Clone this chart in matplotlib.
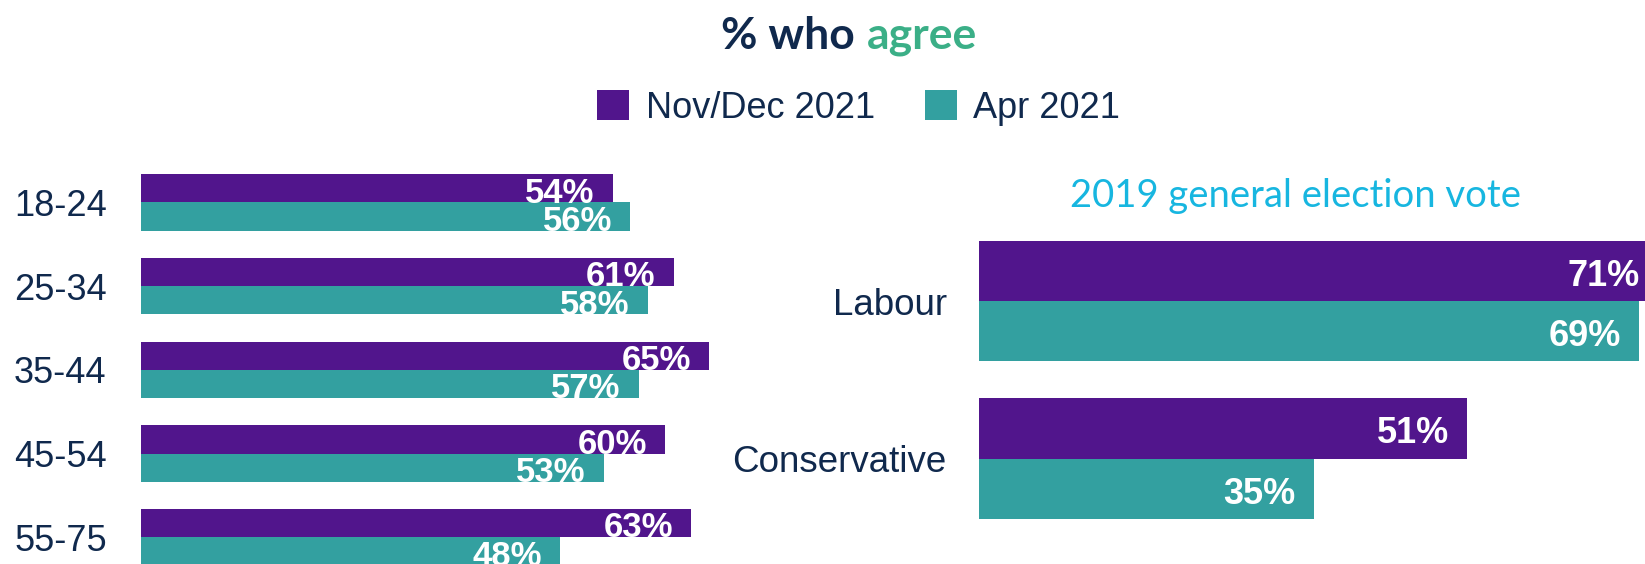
import matplotlib
matplotlib.use("Agg")
import matplotlib.pyplot as plt
import matplotlib.transforms as mtransforms

# data
age_groups = ["18-24", "25-34", "35-44", "45-54", "55-75"]
age_nov = [54, 61, 65, 60, 63]
age_apr = [56, 58, 57, 53, 48]

parties = ["Labour", "Conservative"]
party_nov = [71, 51]
party_apr = [69, 35]

series_names = ["Nov/Dec 2021", "Apr 2021"]

PURPLE = "#51158C"
TEAL = "#33A0A0"
NAVY = "#10294D"
GREEN = "#3BAF87"
CYAN = "#17B6E0"

W, H = 1645, 564
fig = plt.figure(figsize=(W / 100, H / 100), dpi=100)


def px_axes(x0, y_top, width, height):
    # axes rectangle given in pixels from the top-left corner
    return fig.add_axes([x0 / W, (H - y_top - height) / H, width / W, height / H])


def draw_bars(ax, cats, nov, apr, h, fs):
    pos = list(range(len(cats)))
    b1 = ax.barh([p - h / 2 for p in pos], nov, height=h, color=PURPLE,
                 label=series_names[0])
    b2 = ax.barh([p + h / 2 for p in pos], apr, height=h, color=TEAL,
                 label=series_names[1])
    for bars, vals in ((b1, nov), (b2, apr)):
        for rect, v in zip(bars, vals):
            ax.annotate(f"{v}%", (v, rect.get_y() + rect.get_height() / 2),
                        xytext=(-13, -1), textcoords="offset points",
                        ha="right", va="center_baseline", color="white",
                        fontsize=fs, fontweight="bold",
                        family="Liberation Sans", annotation_clip=False)
    ax.set_yticks([])
    ax.set_xticks([])
    for s in ax.spines.values():
        s.set_visible(False)
    return b1, b2


# left panel: age groups
ax1 = px_axes(140.6, 160.6, 8.74 * 80, 83.7 * 5)
ax1.set_xlim(0, 80)
ax1.set_ylim(4.5, -0.5)
b1, b2 = draw_bars(ax1, age_groups, age_nov, age_apr, 0.338, 25)
trans = mtransforms.blended_transform_factory(fig.transFigure, ax1.transData)
for i, c in enumerate(age_groups):
    ax1.text(14 / W, i, c, transform=trans, ha="left", va="center_baseline",
             fontsize=26, color=NAVY, family="Liberation Sans")

# right panel: 2019 vote
ax2 = px_axes(978.8, 206.7, 9.57 * 72, 157.4 * 2.2)
ax2.set_xlim(0, 72)
ax2.set_ylim(1.6, -0.6)
draw_bars(ax2, parties, party_nov, party_apr, 0.383, 26)
for i, c in enumerate(parties):
    ax2.annotate(c, (0, i), xytext=(-23, 0), textcoords="offset points",
                 ha="right", va="center_baseline", fontsize=26.5, color=NAVY,
                 family="Liberation Sans", annotation_clip=False)

fig.text(1296 / W, 1 - 207 / H, "2019 general election vote", ha="center",
         va="baseline", fontsize=27.5, color=CYAN, family="Lato")

# title in two colours
fig.text(855 / W, 1 - 49 / H, "% who", ha="right", va="baseline",
         fontsize=32, color=NAVY, family="Lato", fontweight="bold")
fig.text(867 / W, 1 - 49 / H, "agree", ha="left", va="baseline",
         fontsize=32, color=GREEN, family="Lato", fontweight="bold")

fig.legend(handles=[b1, b2], labels=series_names, loc="center",
           bbox_to_anchor=(0.522, 1 - 108 / H), ncol=2, frameon=False,
           handlelength=0.88, handleheight=0.88,
           handletextpad=0.47, columnspacing=1.38, borderpad=0,
           prop={"family": "Liberation Sans", "size": 26},
           labelcolor=NAVY)

fig.savefig("out.png", dpi=100)
